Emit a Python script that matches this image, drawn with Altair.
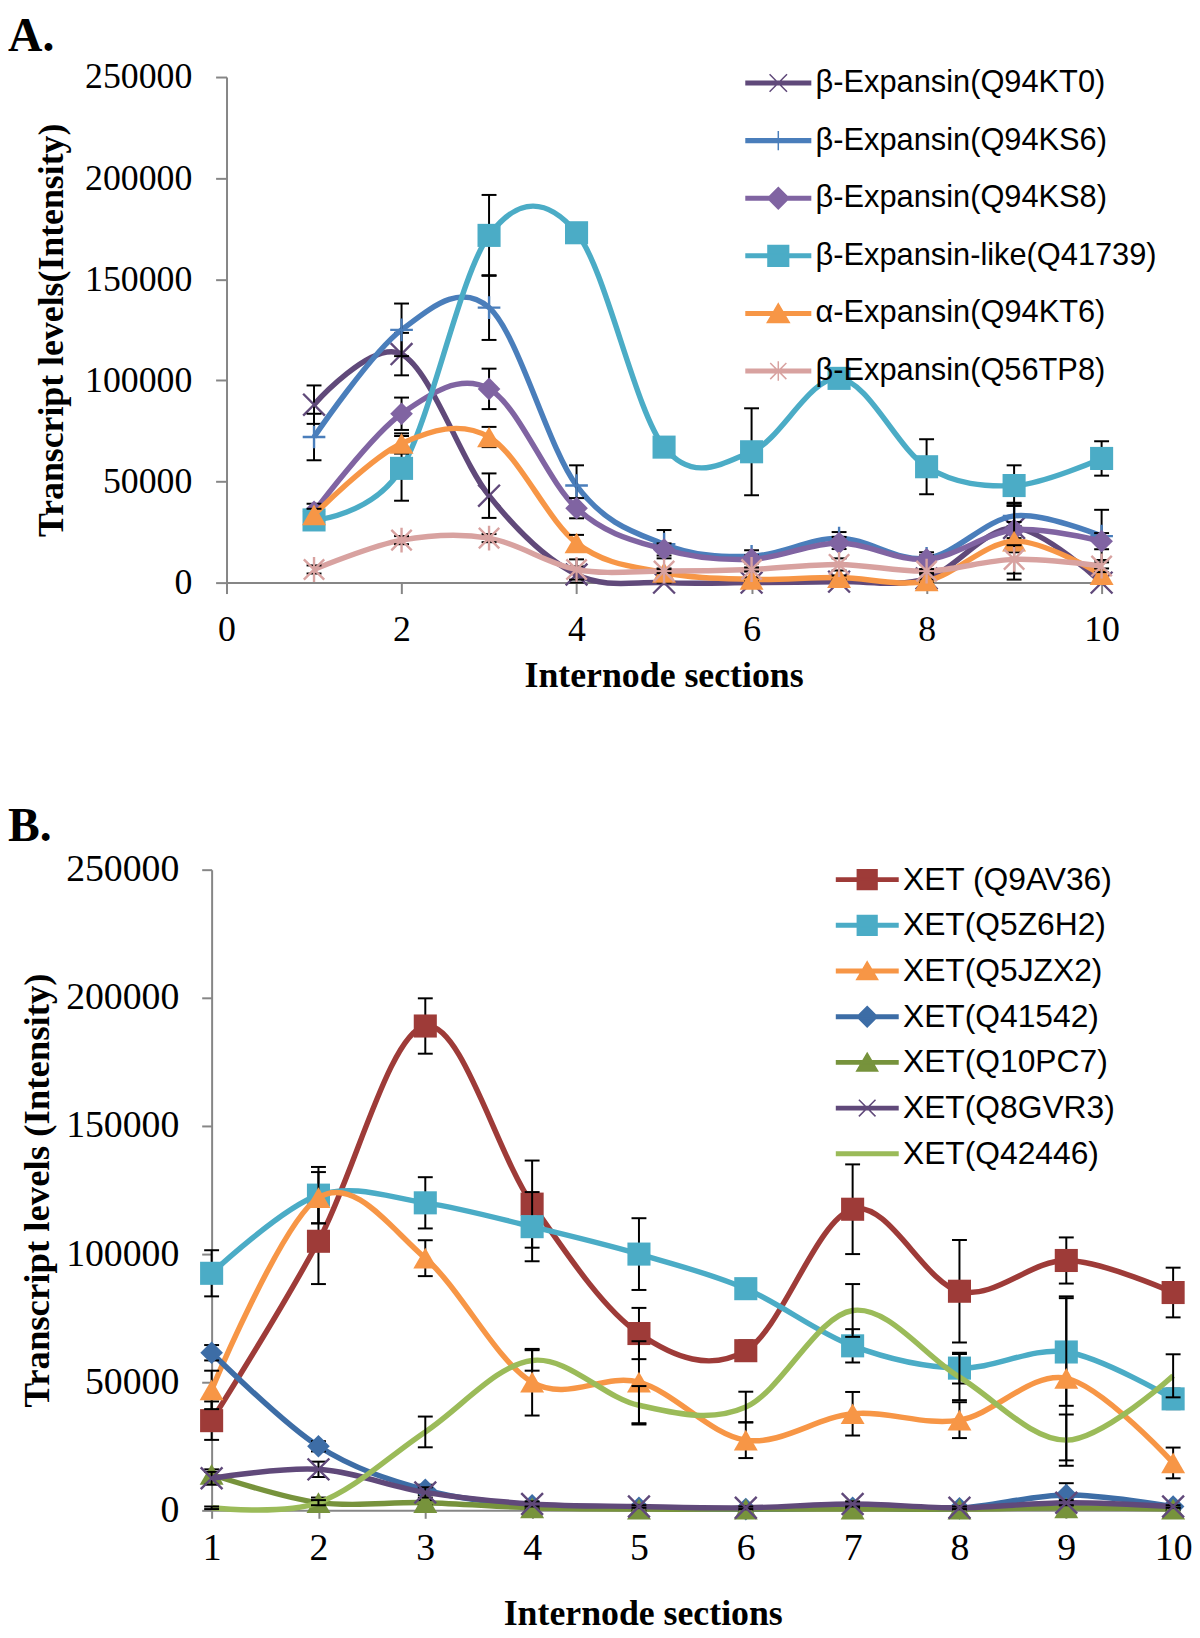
import altair as alt
import pandas as pd

# ---------------- data ----------------
sections = [1, 2, 3, 4, 5, 6, 7, 8, 9, 10]

a_names = ["β-Expansin(Q94KT0)", "β-Expansin(Q94KS6)", "β-Expansin(Q94KS8)",
           "β-Expansin-like(Q41739)", "α-Expansin(Q94KT6)", "β-Expansin(Q56TP8)"]
a_kt0 = [88000, 113000, 43000, 4000, 0, 0, 500, 2000, 27000, 0]
a_ks6 = [72000, 125000, 136000, 48000, 19000, 13000, 22000, 12000, 33000, 23000]
a_ks8 = [35000, 83500, 95800, 36800, 16400, 11500, 19600, 11500, 26000, 20500]
a_q41739 = [31000, 56500, 171700, 173000, 67000, 64700, 101000, 57300, 48000, 61400]
a_kt6 = [33500, 68800, 72000, 19600, 5000, 1600, 2500, 800, 20500, 4000]
a_q56tp8 = [6500, 21000, 22000, 6500, 5700, 6500, 9000, 5700, 11500, 8200]
a_values = [a_kt0, a_ks6, a_ks8, a_q41739, a_kt6, a_q56tp8]

a_err_kt0 = [9500, 10500, 11000, 4000, 1000, 500, 1000, 2000, 12000, 500]
a_err_ks6 = [11500, 13000, 16000, 10000, 7000, 3000, 3000, 3000, 5000, 13000]
a_err_ks8 = [4000, 8000, 10000, 5000, 3000, 2000, 3000, 2000, 4000, 4000]
a_err_q41739 = [4000, 16000, 20000, 4000, 3000, 21500, 3000, 13600, 10000, 8500]
a_err_kt6 = [3000, 5000, 5000, 4000, 2000, 1000, 1000, 800, 19000, 3000]
a_err_q56tp8 = [2000, 2000, 2000, 5000, 1000, 1000, 3000, 1000, 7000, 3000]
a_errors = [a_err_kt0, a_err_ks6, a_err_ks8, a_err_q41739, a_err_kt6, a_err_q56tp8]

a_colors = ["#60497A", "#4A7EBB", "#8064A2", "#4BACC6", "#F79646", "#D8A2A0"]
a_markers = ["x", "plus", "diamond", "square", "triangle", "asterisk"]
a_xticks = [0, 2, 4, 6, 8, 10]

b_names = ["XET (Q9AV36)", "XET(Q5Z6H2)", "XET(Q5JZX2)", "XET(Q41542)",
           "XET(Q10PC7)", "XET(Q8GVR3)", "XET(Q42446)"]
b_q9av36 = [35000, 105000, 189000, 119500, 69000, 62300, 117500, 85500, 97500, 85000]
b_q5z6h2 = [92500, 123000, 120000, 110700, 100000, 86500, 64200, 55500, 61800, 43500]
b_q5jzx2 = [47000, 122000, 98400, 50000, 50000, 27400, 37700, 35200, 51500, 18500]
b_q41542 = [61500, 25000, 8000, 2000, 1000, 500, 1000, 800, 6000, 1500]
b_q10pc7 = [14000, 3000, 3000, 1000, 500, 500, 500, 500, 1000, 500]
b_q8gvr3 = [12500, 16000, 7000, 2500, 1500, 1000, 2500, 1000, 3000, 1500]
b_q42446 = [1000, 3000, 30600, 58500, 41000, 40300, 78000, 52000, 27400, 52500]
b_values = [b_q9av36, b_q5z6h2, b_q5jzx2, b_q41542, b_q10pc7, b_q8gvr3, b_q42446]

b_err_q9av36 = [7500, 16700, 10800, 17000, 10000, 4000, 17500, 20000, 9000, 9700]
b_err_q5z6h2 = [9000, 11000, 10000, 13500, 14000, 2000, 6500, 6000, 21000, 4000]
b_err_q5jzx2 = [7500, 10000, 7000, 13000, 16000, 7000, 8500, 7000, 32000, 6000]
b_err_q41542 = [3000, 2000, 2000, 1000, 500, 500, 1000, 500, 4600, 1000]
b_err_q10pc7 = [2000, 2000, 1000, 500, 500, 500, 500, 500, 1000, 500]
b_err_q8gvr3 = [2500, 3000, 2000, 1000, 500, 500, 1000, 500, 1000, 500]
b_err_q42446 = [500, 1000, 6000, 4000, 7500, 6000, 10300, 9000, 10000, 8400]
b_errors = [b_err_q9av36, b_err_q5z6h2, b_err_q5jzx2, b_err_q41542,
            b_err_q10pc7, b_err_q8gvr3, b_err_q42446]

b_colors = ["#9E3B38", "#4BACC6", "#F79646", "#3D6DA6", "#77933C", "#60497A", "#9BBB59"]
b_markers = ["square", "square", "triangle", "diamond", "triangle", "x", "none"]
b_xticks = sections

y_ticks = [0, 50000, 100000, 150000, 200000, 250000]

# ---------------- styles ----------------
SERIF = "Liberation Serif"
SANS = "Liberation Sans"
GRAY = "#868686"

PLOT_SHAPES = {
    "x": ("M-1,-1L1,1M-1,1L1,-1", False),
    "plus": ("M-1,0L1,0M0,-1L0,1", False),
    "asterisk": ("M-0.9,-0.9L0.9,0.9M-0.9,0.9L0.9,-0.9M0,-1.1L0,1.1", False),
    "diamond": ("diamond", True),
    "square": ("square", True),
    "triangle": ("triangle-up", True),
}
PLOT_SIZES = {"x": 480, "plus": 520, "asterisk": 520, "diamond": 520,
              "square": 540, "triangle": 580}

LEG_LINE = "M-1,-0.055L1,-0.055L1,0.055L-1,0.055Z"
LEG_MARK = {
    "x": "M-0.27,-0.27L0.27,0.27M-0.27,0.27L0.27,-0.27",
    "plus": "M0,-0.3L0,0.3",
    "asterisk": "M-0.25,-0.25L0.25,0.25M-0.25,0.25L0.25,-0.25M0,-0.3L0,0.3",
    "diamond": "M0,-0.33L0.33,0L0,0.33L-0.33,0Z",
    "square": "M-0.32,-0.32L0.32,-0.32L0.32,0.32L-0.32,0.32Z",
    "triangle": "M0,-0.3L0.34,0.28L-0.34,0.28Z",
    "none": "",
}


def make_df(names, values, errors):
    rows = []
    for n, vs, es in zip(names, values, errors):
        for s, v, e in zip(sections, vs, es):
            rows.append({"section": s, "series": n, "value": v,
                         "lo": max(v - e, 0), "hi": v + e})
    return pd.DataFrame(rows)


def build_panel(df, names, colors, markers, *, width, height, xscale, xaxis, yaxis,
                legend, label, title_offset):
    yscale = alt.Scale(domain=[0, 250000], nice=False, zero=False)
    x = alt.X("section:Q", scale=xscale, axis=xaxis)

    def Y(field):
        return alt.Y(field, scale=yscale, axis=yaxis)

    layers = []
    for name, col, mk in zip(names, colors, markers):
        base = alt.Chart(df).transform_filter(alt.datum.series == name)
        layers.append(base.mark_line(interpolate="cardinal", color=col, strokeWidth=5.5)
                      .encode(x=x, y=Y("value:Q")))
        layers.append(base.mark_rule(color="black", strokeWidth=2)
                      .encode(x=x, y=Y("lo:Q"), y2="hi:Q"))
        for f in ["lo:Q", "hi:Q"]:
            layers.append(base.mark_point(shape="stroke", color="black", strokeWidth=2,
                                          size=225, opacity=1)
                          .encode(x=x, y=Y(f)))
        if mk != "none":
            shp, filled = PLOT_SHAPES[mk]
            if filled:
                m = base.mark_point(shape=shp, filled=True, color=col, opacity=1,
                                    size=PLOT_SIZES[mk])
            else:
                m = base.mark_point(shape=shp, filled=False, color=col, opacity=1,
                                    strokeWidth=2.4, size=PLOT_SIZES[mk])
            layers.append(m.encode(x=x, y=Y("value:Q")))

    leg_paths = [LEG_LINE + LEG_MARK[mk] for mk in markers]
    leg = (alt.Chart(df).transform_filter("false")
           .mark_point(filled=True, opacity=1, strokeWidth=1.5)
           .encode(
               x=x, y=Y("value:Q"),
               fill=alt.Fill("series:N", scale=alt.Scale(domain=names, range=colors), legend=legend),
               stroke=alt.Stroke("series:N", scale=alt.Scale(domain=names, range=colors), legend=legend),
               shape=alt.Shape("series:N", scale=alt.Scale(domain=names, range=leg_paths), legend=legend),
           ))
    layers.append(leg)

    return alt.layer(*layers).properties(
        width=width, height=height,
        title=alt.TitleParams(text=label, anchor="start", frame="group", dx=-205,
                              offset=title_offset, font=SERIF, fontSize=48,
                              fontWeight="bold", color="black", baseline="alphabetic"),
    )


def axis(values, title, *, fs, tfs, tick, pad, tpad=None, offset=None, titleX=None,
         titleBaseline=None):
    kw = dict(values=values, format="d", title=title, labelFont=SERIF, labelFontSize=fs,
              labelColor="black", labelPadding=pad, labelFlush=False, labelOverlap=False,
              tickSize=tick, tickColor=GRAY, tickWidth=2, domainColor=GRAY, domainWidth=2,
              grid=False, titleFont=SERIF, titleFontSize=tfs, titleFontWeight="bold",
              titleColor="black")
    if tpad is not None:
        kw["titlePadding"] = tpad
    if offset is not None:
        kw["offset"] = offset
    if titleX is not None:
        kw["titleX"] = titleX
    if titleBaseline is not None:
        kw["titleBaseline"] = titleBaseline
    return alt.Axis(**kw)


def legend_obj(x, y, L, row_pad, fs):
    return alt.Legend(title=None, orient="none", legendX=x, legendY=y, symbolSize=L * L,
                      symbolStrokeWidth=1.5, clipHeight=30, rowPadding=row_pad,
                      labelFont=SANS, labelFontSize=fs, labelColor="black", labelOffset=4,
                      labelLimit=600, padding=0, symbolOpacity=1)


df_a = make_df(a_names, a_values, a_errors)
df_b = make_df(b_names, b_values, b_errors)

panel_a = build_panel(
    df_a, a_names, a_colors, a_markers, width=896, height=509,
    xscale=alt.Scale(domain=[0, 10], range=[15, 896], nice=False, zero=False),
    xaxis=axis(a_xticks, "Internode sections", fs=36, tfs=36, tick=11, pad=19, tpad=12,
               titleX=455),
    yaxis=axis(y_ticks, "Transcript levels(Intensity)", fs=36, tfs=36, tick=11, pad=24,
               offset=-15, titleX=-165, titleBaseline="alphabetic"),
    legend=legend_obj(537, -9, 65, 27, 31), label="A.", title_offset=-40,
)

panel_b = build_panel(
    df_b, b_names, b_colors, b_markers, width=968, height=645,
    xscale=alt.Scale(domain=[1, 10], nice=False, zero=False),
    xaxis=axis(b_xticks, "Internode sections", fs=38, tfs=36, tick=8, pad=11, tpad=30,
               titleX=434),
    yaxis=axis(y_ticks, "Transcript levels (Intensity)", fs=38, tfs=37, tick=10, pad=23,
               titleX=-164, titleBaseline="alphabetic"),
    legend=legend_obj(628, -5, 62, 14, 32), label="B.", title_offset=-38,
)

chart = (alt.vconcat(panel_a, panel_b, spacing=110)
         .resolve_scale(fill="independent", stroke="independent", shape="independent",
                        x="independent", y="independent")
         .resolve_legend(fill="independent", stroke="independent", shape="independent")
         .properties(padding=0, background="white")
         .configure_view(stroke=None))

chart.save("out.html", embed_options={"renderer": "svg", "actions": False})
